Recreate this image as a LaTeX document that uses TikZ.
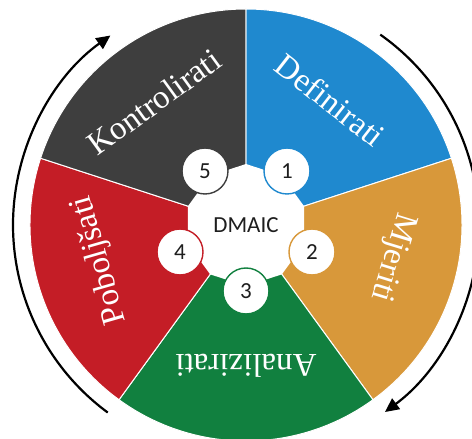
\documentclass[tikz,border=0pt]{standalone}
\usepackage{fontspec}
\setmainfont{Liberation Serif}
\newfontfamily\calib{Carlito}
\usetikzlibrary{arrows.meta,shapes.geometric}
\definecolor{cblue}{RGB}{31,137,207}
\definecolor{corange}{RGB}{216,152,58}
\definecolor{cgreen}{RGB}{17,128,63}
\definecolor{cred}{RGB}{196,29,38}
\definecolor{cdark}{RGB}{62,62,62}
\definecolor{ctext}{RGB}{30,30,30}
\tikzset{
  seg/.style={draw=white, line width=1pt},
  lbl/.style={text=white, font=\fontsize{33}{36}\selectfont, inner sep=0pt},
  num/.style={circle, fill=white, line width=1.4pt, minimum size=46pt, inner sep=0pt,
    text=ctext, font=\calib\fontsize{23}{26}\selectfont},
  hubshape/.style={regular polygon, regular polygon sides=10, shape border rotate=18,
    minimum size=122pt, inner sep=0pt, outer sep=0pt, fill=white,
    text=ctext, font=\calib\fontsize{23}{26}\selectfont},
  cyc/.style={line width=2.2pt, -{Triangle[length=14pt,width=13pt]}}
}
\begin{document}
\begin{tikzpicture}[x=1pt,y=1pt]
\useasboundingbox (-246,-214) rectangle (226,225);
\clip (-246,-214) rectangle (226,225);
% segments
\path[seg, fill=cblue]   (0,0) -- (90:216)   arc[start angle=90,  end angle=18,   radius=216] -- cycle;
\path[seg, fill=corange] (0,0) -- (18:216)   arc[start angle=18,  end angle=-54,  radius=216] -- cycle;
\path[seg, fill=cgreen]  (0,0) -- (-54:216)  arc[start angle=-54, end angle=-126, radius=216] -- cycle;
\path[seg, fill=cred]    (0,0) -- (-126:216) arc[start angle=-126,end angle=-198, radius=216] -- cycle;
\path[seg, fill=cdark]   (0,0) -- (162:216)  arc[start angle=162, end angle=90,   radius=216] -- cycle;
% labels
\node[lbl, rotate=-38]  (tD) at (84,125)   {Definirati};
\node[lbl, rotate=-107] (tM) at (146,-32)  {Mjeriti};
\node[lbl, rotate=180]  (tA) at (0,-141)   {Analizirati};
\node[lbl, rotate=106]  (tP) at (-146,-35) {Poboljšati};
\node[lbl, rotate=36]   (tK) at (-92,123)  {Kontrolirati};
% hub
\node[hubshape] (hub) at (0,0) {DMAIC};
% numbered circles
\node[num, draw=cblue]   (n1) at (41,54)   {1};
\node[num, draw=corange] (n2) at (66,-27)  {2};
\node[num, draw=cgreen]  (n3) at (0,-66)   {3};
\node[num, draw=cred]    (n4) at (-66,-27) {4};
\node[num, draw=cdark]   (n5) at (-41,54)  {5};
% cycle arrows
\coordinate (la) at (233.6:233);
\coordinate (ra) at (54.8:233);
\draw[cyc] (la) arc[start angle=233.6, end angle=125.6, radius=233];
\draw[cyc] (ra) arc[start angle=54.8, end angle=-53.4, radius=233];
\end{tikzpicture}
\end{document}
